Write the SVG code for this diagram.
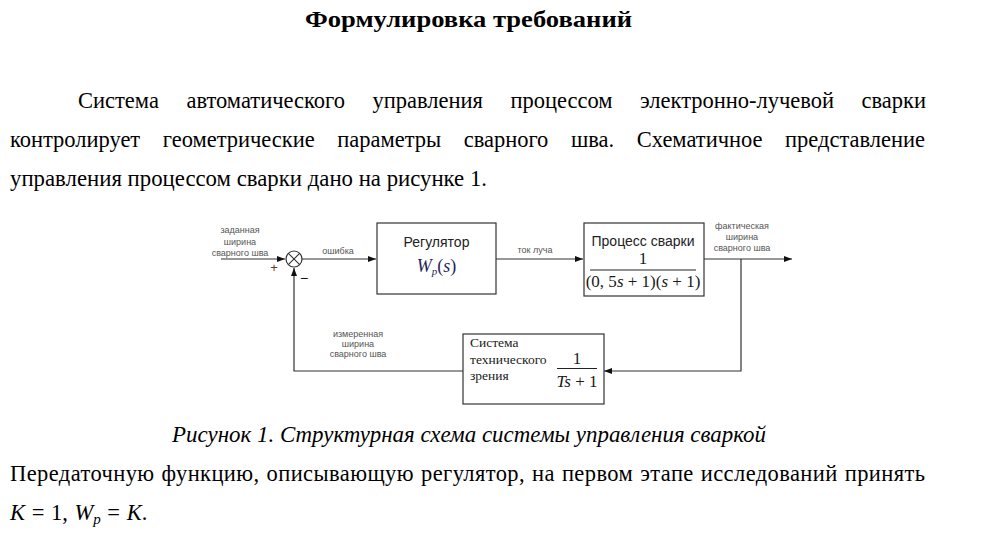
<svg xmlns="http://www.w3.org/2000/svg" width="996" height="535" viewBox="0 0 996 535">
<style>
.ser{font-family:"Liberation Serif","Times New Roman",serif}
.body{font-size:22.5px;fill:#000}
.title{font-size:24px;font-weight:bold;fill:#000}
.cap{font-size:22.5px;font-style:italic;fill:#000}
.lbl{font-family:"Liberation Sans",Arial,sans-serif;font-size:9px;fill:#555;text-anchor:middle}
.blk{font-family:"Liberation Sans",Arial,sans-serif;font-size:14px;fill:#222;text-anchor:middle}
.math{font-size:17px;fill:#1a1a1a}
.vis{font-size:13.5px;fill:#222}
.box{fill:#fff;stroke:#333;stroke-width:1.2}
.wire{fill:none;stroke:#333;stroke-width:1.2}
</style>
<defs>
<marker id="arr" viewBox="0 0 8 6" refX="8" refY="3" markerWidth="8" markerHeight="6" markerUnits="userSpaceOnUse" orient="auto">
<path d="M0,0 L8,3 L0,6 Z" fill="#111"/>
</marker>
</defs>
<rect width="996" height="535" fill="#fff"/>

<g class="ser">
<text class="title" x="305" y="27" textLength="327" lengthAdjust="spacingAndGlyphs">Формулировка требований</text>
<text class="body" x="78" y="108" word-spacing="22" textLength="848" lengthAdjust="spacing">Система автоматического управления процессом электронно-лучевой сварки</text>
<text class="body" x="10" y="147" word-spacing="17" textLength="915" lengthAdjust="spacing">контролирует геометрические параметры сварного шва. Схематичное представление</text>
<text class="body" x="10" y="186" textLength="477" lengthAdjust="spacingAndGlyphs">управления процессом сварки дано на рисунке 1.</text>
</g>

<g id="connectors">
<path class="wire" d="M221,259 H285" marker-end="url(#arr)"/>
<path class="wire" d="M302,259 H376" marker-end="url(#arr)"/>
<path class="wire" d="M496,259 H583" marker-end="url(#arr)"/>
<path class="wire" d="M704,259 H792" marker-end="url(#arr)"/>
<path class="wire" d="M741,259 V371 H604" marker-end="url(#arr)"/>
<path class="wire" d="M463,371 H294 V268" marker-end="url(#arr)"/>
</g>

<g id="sum">
<circle cx="294" cy="259" r="8" fill="#fff" stroke="#333" stroke-width="1.2"/>
<path d="M288.3,253.3 L299.7,264.7 M299.7,253.3 L288.3,264.7" stroke="#333" stroke-width="1.1"/>
<text x="274" y="272" font-family="Liberation Sans, Arial, sans-serif" font-size="13" fill="#6b3030" text-anchor="middle">+</text>
<text x="304" y="283" font-family="Liberation Sans, Arial, sans-serif" font-size="14" fill="#111" text-anchor="middle">−</text>
</g>

<g id="labels">
<text class="lbl" x="240" y="233">заданная</text>
<text class="lbl" x="240" y="245">ширина</text>
<text class="lbl" x="240" y="256">сварного шва</text>
<text class="lbl" x="338" y="254">ошибка</text>
<text class="lbl" x="535" y="253">ток луча</text>
<text class="lbl" x="742" y="229">фактическая</text>
<text class="lbl" x="742" y="240">ширина</text>
<text class="lbl" x="742" y="251">сварного шва</text>
<text class="lbl" x="358" y="337">измеренная</text>
<text class="lbl" x="358" y="347">ширина</text>
<text class="lbl" x="358" y="357">сварного шва</text>
</g>

<g id="regulator">
<rect class="box" x="377" y="223" width="119" height="71"/>
<text class="blk" x="436.5" y="247">Регулятор</text>
<text x="436.5" y="272" font-family="Liberation Serif, Times New Roman, serif" font-size="18" fill="#1f1f5a" text-anchor="middle"><tspan font-style="italic">W</tspan><tspan font-style="italic" font-size="11" dy="3">p</tspan><tspan dy="-3">(</tspan><tspan font-style="italic">s</tspan><tspan>)</tspan></text>
</g>

<g id="process" class="ser">
<rect class="box" x="584" y="223" width="120" height="73"/>
<text class="blk" x="643" y="246">Процесс сварки</text>
<text class="math" x="643" y="264" text-anchor="middle">1</text>
<line x1="590" y1="270" x2="696" y2="270" stroke="#222" stroke-width="1"/>
<text class="math" x="643" y="287" text-anchor="middle" font-size="16.5">(0, 5<tspan font-style="italic">s</tspan> + 1)(<tspan font-style="italic">s</tspan> + 1)</text>
</g>

<g id="vision" class="ser">
<rect class="box" x="463" y="334" width="141" height="70"/>
<text class="vis" x="470" y="347">Система</text>
<text class="vis" x="470" y="364">технического</text>
<text class="vis" x="470" y="380">зрения</text>
<text class="math" x="577" y="364" text-anchor="middle" font-size="18">1</text>
<line x1="557" y1="368.5" x2="597" y2="368.5" stroke="#222" stroke-width="1"/>
<text class="math" x="577" y="387" text-anchor="middle" font-size="18"><tspan font-style="italic">Ts</tspan> + 1</text>
</g>

<g class="ser">
<text class="cap" x="172" y="442" textLength="594" lengthAdjust="spacingAndGlyphs">Рисунок 1. Структурная схема системы управления сваркой</text>
<text class="body" x="10" y="481" word-spacing="1" textLength="915" lengthAdjust="spacing">Передаточную функцию, описывающую регулятор, на первом этапе исследований принять</text>
<text class="body" x="10" y="520" word-spacing="1"><tspan font-style="italic">K</tspan> = 1, <tspan font-style="italic">W</tspan><tspan font-style="italic" font-size="15" dy="4">p</tspan><tspan dy="-4"> = </tspan><tspan font-style="italic">K</tspan>.</text>
</g>
</svg>
